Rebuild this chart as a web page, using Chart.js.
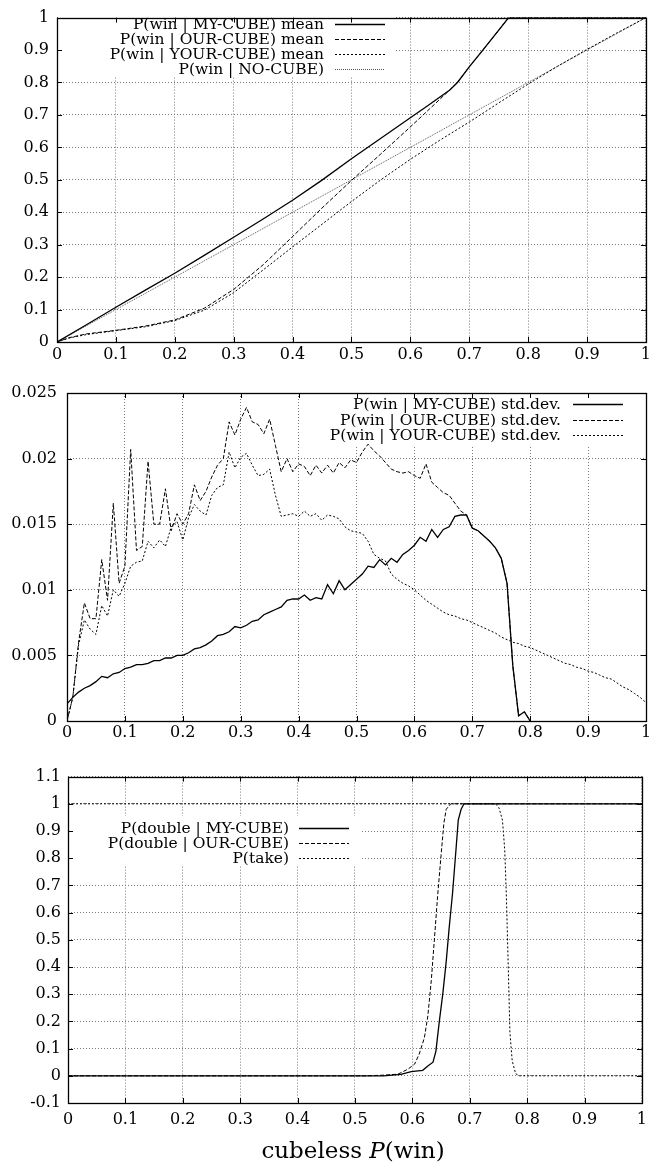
<!DOCTYPE html>
<html>
<head>
<meta charset="utf-8">
<script src="https://cdn.jsdelivr.net/npm/chart.js@4.4.1/dist/chart.umd.min.js"></script>
<style>
  body { margin: 0; background: #fff; width: 654px; height: 1170px; position: relative; overflow: hidden; }
  canvas { position: absolute; left: 0; }
  #xtitle { position: absolute; top: 1137px; left: 153px; width: 400px; text-align: center;
            font-family: "DejaVu Serif", serif; font-size: 23px; line-height: 26px; color: #000; }
</style>
</head>
<body>
<canvas id="meanChart" width="654" height="370" style="top:0px"></canvas>
<canvas id="sdChart" width="654" height="390" style="top:370px"></canvas>
<canvas id="doubleChart" width="654" height="410" style="top:760px"></canvas>
<div id="xtitle">cubeless <i>P</i>(win)</div>

<script>
// ---- tick values ----
const xTicks = [0, 0.1, 0.2, 0.3, 0.4, 0.5, 0.6, 0.7, 0.8, 0.9, 1];
const meanYTicks = [0, 0.1, 0.2, 0.3, 0.4, 0.5, 0.6, 0.7, 0.8, 0.9, 1];
const sdYTicks = [0, 0.005, 0.01, 0.015, 0.02, 0.025];
const doubleYTicks = [-0.1, 0, 0.1, 0.2, 0.3, 0.4, 0.5, 0.6, 0.7, 0.8, 0.9, 1, 1.1];

// ---- panel 1: mean P(win) ----
const meanMyX = [0, 0.05, 0.1, 0.15, 0.2, 0.25, 0.3, 0.35, 0.4, 0.45, 0.5, 0.55, 0.6, 0.63, 0.667, 0.68, 0.7, 0.72, 0.74, 0.767, 1];
const meanMy  = [0, 0.053, 0.107, 0.160, 0.212, 0.267, 0.323, 0.379, 0.437, 0.499, 0.565, 0.628, 0.691, 0.729, 0.777, 0.80, 0.848, 0.893, 0.938, 1, 1];
const meanOurX = [0, 0.02, 0.05, 0.1, 0.15, 0.2, 0.25, 0.3, 0.35, 0.4, 0.45, 0.5, 0.55, 0.6, 0.63, 0.667, 0.68, 0.7, 0.72, 0.74, 0.767, 1];
const meanOur  = [0, 0.013, 0.025, 0.036, 0.049, 0.068, 0.104, 0.162, 0.238, 0.325, 0.413, 0.498, 0.58, 0.663, 0.714, 0.777, 0.80, 0.848, 0.893, 0.938, 1, 1];
const meanYourX = [0, 0.02, 0.05, 0.1, 0.15, 0.2, 0.25, 0.3, 0.35, 0.4, 0.45, 0.5, 0.55, 0.6, 0.65, 0.7, 0.75, 0.8, 0.85, 0.9, 0.95, 1];
const meanYour  = [0, 0.012, 0.023, 0.035, 0.047, 0.066, 0.098, 0.152, 0.222, 0.293, 0.363, 0.433, 0.5, 0.563, 0.622, 0.678, 0.737, 0.795, 0.85, 0.902, 0.952, 1];
const meanNoX = [0, 1];
const meanNo  = [0, 1];

// ---- panel 2: std.dev. ----
const sdX = [0, 0.01, 0.02, 0.03, 0.04, 0.05, 0.06, 0.07, 0.08, 0.09,
  0.1, 0.11, 0.12, 0.13, 0.14, 0.15, 0.16, 0.17, 0.18, 0.19,
  0.2, 0.21, 0.22, 0.23, 0.24, 0.25, 0.26, 0.27, 0.28, 0.29,
  0.3, 0.31, 0.32, 0.33, 0.34, 0.35, 0.36, 0.37, 0.38, 0.39,
  0.4, 0.41, 0.42, 0.43, 0.44, 0.45, 0.46, 0.47, 0.48, 0.49,
  0.5, 0.51, 0.52, 0.53, 0.54, 0.55, 0.56, 0.57, 0.58, 0.59,
  0.6, 0.61, 0.62, 0.63, 0.64, 0.65, 0.66, 0.67, 0.68, 0.69,
  0.7, 0.71, 0.72, 0.73, 0.74, 0.75, 0.76, 0.77, 0.78, 0.79,
  0.8, 0.81, 0.82, 0.83, 0.84, 0.85, 0.86, 0.87, 0.88, 0.89,
  0.9, 0.91, 0.92, 0.93, 0.94, 0.95, 0.96, 0.97, 0.98, 0.99, 1];
const sdMy = [0.0013, 0.0018, 0.0022, 0.0025, 0.0027, 0.0030, 0.0034, 0.0033, 0.0036, 0.0037,
  0.0040, 0.0041, 0.0043, 0.0043, 0.0044, 0.0046, 0.0046, 0.0048, 0.0048, 0.0050,
  0.0050, 0.0052, 0.0055, 0.0056, 0.0058, 0.0061, 0.0065, 0.0066, 0.0068, 0.0072,
  0.0071, 0.0073, 0.0076, 0.0077, 0.0081, 0.0083, 0.0085, 0.0087, 0.0092, 0.0093,
  0.0093, 0.0096, 0.0092, 0.0094, 0.0093, 0.0104, 0.0097, 0.0107, 0.0100, 0.0104,
  0.0108, 0.0112, 0.0118, 0.0117, 0.0123, 0.0119, 0.0124, 0.0121, 0.0127, 0.0130,
  0.0134, 0.0140, 0.0137, 0.0146, 0.0140, 0.0146, 0.0148, 0.0156, 0.0157, 0.0157,
  0.0147, 0.0145, 0.0141, 0.0137, 0.0132, 0.0124, 0.0105, 0.0042, 0.0004, 0.0007, 0];
const sdOur = [0, 0.0018, 0.0060, 0.0090, 0.0078, 0.0078, 0.0123, 0.0092, 0.0166, 0.0105,
  0.0118, 0.0207, 0.0130, 0.0133, 0.0198, 0.0150, 0.0150, 0.0177, 0.0145, 0.0158,
  0.0150, 0.0158, 0.0180, 0.0168, 0.0175, 0.0186, 0.0195, 0.0200, 0.0228, 0.0218,
  0.0230, 0.0239, 0.0228, 0.0226, 0.0219, 0.0230, 0.0210, 0.0190, 0.0200, 0.0190,
  0.0196, 0.0194, 0.0187, 0.0195, 0.0189, 0.0195, 0.0189, 0.0197, 0.0193, 0.0199,
  0.0197, 0.0205, 0.0211, 0.0206, 0.0202, 0.0197, 0.0192, 0.0190, 0.0189, 0.0190,
  0.0187, 0.0185, 0.0196, 0.0182, 0.0178, 0.0174, 0.0172, 0.0166, 0.0160, 0.0157,
  0.0147, 0.0145, 0.0141, 0.0137, 0.0132, 0.0124, 0.0105, 0.0042, 0.0004, 0.0007, 0];
const sdYour = [0, 0.0018, 0.0058, 0.0077, 0.0070, 0.0066, 0.0088, 0.0080, 0.0100, 0.0095,
  0.0105, 0.0118, 0.0121, 0.0122, 0.0137, 0.0132, 0.0138, 0.0133, 0.0148, 0.0152,
  0.0138, 0.0155, 0.0165, 0.0160, 0.0157, 0.0172, 0.0178, 0.0180, 0.0205, 0.0193,
  0.0201, 0.0204, 0.0195, 0.0187, 0.0188, 0.0192, 0.0172, 0.0156, 0.0157, 0.0158,
  0.0156, 0.0160, 0.0156, 0.0158, 0.0153, 0.0157, 0.0156, 0.0154, 0.0148, 0.0145,
  0.0144, 0.0143, 0.0137, 0.0127, 0.0124, 0.0122, 0.0112, 0.0108, 0.0105, 0.0103,
  0.0100, 0.0096, 0.0092, 0.0089, 0.0086, 0.0083, 0.0081, 0.0080, 0.0078, 0.0077,
  0.0075, 0.0073, 0.0071, 0.0069, 0.0067, 0.0064, 0.0062, 0.0060, 0.0059, 0.0057,
  0.0056, 0.0054, 0.0052, 0.0050, 0.0048, 0.0046, 0.0044, 0.0043, 0.0041, 0.0040,
  0.0038, 0.0037, 0.0035, 0.0033, 0.0032, 0.0029, 0.0026, 0.0024, 0.0021, 0.0018, 0.0014];

// ---- panel 3: double / take probabilities ----
const dblMyX = [0, 0.55, 0.58, 0.598, 0.61, 0.618, 0.627, 0.636, 0.641, 0.647, 0.653, 0.659, 0.664, 0.67, 0.676, 0.68, 0.685, 0.69, 1];
const dblMy  = [0, 0, 0.005, 0.015, 0.018, 0.02, 0.036, 0.05, 0.09, 0.2, 0.3, 0.42, 0.54, 0.67, 0.83, 0.94, 0.98, 1, 1];
const dblOurX = [0, 0.52, 0.546, 0.575, 0.592, 0.604, 0.612, 0.621, 0.627, 0.633, 0.638, 0.644, 0.65, 0.655, 0.659, 0.667, 1];
const dblOur  = [0, 0, 0.002, 0.006, 0.024, 0.043, 0.08, 0.14, 0.22, 0.35, 0.49, 0.66, 0.81, 0.93, 0.98, 1, 1];
const takeX = [0, 0.745, 0.751, 0.757, 0.761, 0.764, 0.767, 0.77, 0.774, 0.78, 0.786, 1];
const take  = [1, 1, 0.985, 0.94, 0.83, 0.65, 0.41, 0.16, 0.055, 0.008, 0, 0];

const FONT = '"DejaVu Serif", "Liberation Serif", serif';
const pts = (xs, ys) => xs.map((x, i) => ({ x: x, y: ys[i] }));

// gnuplot look: white legend box over the grid, frame, inward ticks, legend text
const gnuplotFrame = {
    id: 'gnuplotFrame',
    beforeDatasetsDraw(chart, args, opts) {
        const b = opts.box;
        const ctx = chart.ctx;
        ctx.save();
        ctx.fillStyle = '#fff';
        ctx.fillRect(b.x, b.y, b.w, b.h);
        ctx.restore();
    },
    afterDatasetsDraw(chart, args, opts) {
        const ctx = chart.ctx;
        const a = chart.chartArea;
        const xs = chart.scales.x, ys = chart.scales.y;
        ctx.save();
        ctx.strokeStyle = '#000';
        ctx.lineWidth = 1;
        ctx.setLineDash([]);
        ctx.beginPath();
        xs.ticks.forEach(t => {
            const px = Math.round(xs.getPixelForValue(t.value)) + 0.5;
            ctx.moveTo(px, a.bottom); ctx.lineTo(px, a.bottom - 5);
            ctx.moveTo(px, a.top); ctx.lineTo(px, a.top + 5);
        });
        ys.ticks.forEach(t => {
            const py = Math.round(ys.getPixelForValue(t.value)) + 0.5;
            ctx.moveTo(a.left, py); ctx.lineTo(a.left + 5, py);
            ctx.moveTo(a.right, py); ctx.lineTo(a.right - 5, py);
        });
        ctx.stroke();
        ctx.lineWidth = 1.3;
        ctx.strokeRect(Math.round(a.left) + 0.5, Math.round(a.top) + 0.5,
                       Math.round(a.right - a.left), Math.round(a.bottom - a.top));

        // legend: text right-aligned, line sample to its right
        ctx.font = '15.5px ' + FONT;
        ctx.fillStyle = '#000';
        ctx.textAlign = 'right';
        ctx.textBaseline = 'middle';
        opts.rows.forEach((r, i) => {
            const y = opts.rowTop + i * opts.rowGap;
            ctx.fillText(r.text, opts.textRight, y + 1);
            const ds = chart.data.datasets[r.ds];
            ctx.strokeStyle = ds.borderColor;
            ctx.lineWidth = ds.borderWidth;
            ctx.setLineDash(ds.borderDash || []);
            ctx.beginPath();
            ctx.moveTo(opts.sampleFrom, Math.round(y) + 0.5);
            ctx.lineTo(opts.sampleTo, Math.round(y) + 0.5);
            ctx.stroke();
        });
        ctx.restore();
    }
};

function makeOptions(cfg) {
    return {
        responsive: false,
        animation: false,
        devicePixelRatio: 1,
        layout: { padding: { top: cfg.top, right: 8, left: 0, bottom: 0 } },
        elements: { point: { radius: 0 }, line: { tension: 0 } },
        plugins: {
            legend: { display: false },
            tooltip: { enabled: false },
            gnuplotFrame: cfg.legend
        },
        scales: {
            x: {
                type: 'linear', min: 0, max: 1,
                afterBuildTicks: s => { s.ticks = xTicks.map(v => ({ value: v })); },
                afterFit: s => { s.height = cfg.xHeight; },
                ticks: { autoSkip: false, maxRotation: 0, padding: cfg.xPad, color: '#000',
                         font: { family: FONT, size: 16 }, callback: v => String(v) },
                grid: { color: '#7a7a7a', lineWidth: 1, drawTicks: false },
                border: { display: false, dash: [1, 2] }
            },
            y: {
                type: 'linear', min: cfg.yMin, max: cfg.yMax,
                afterBuildTicks: s => { s.ticks = cfg.yTicks.map(v => ({ value: v })); },
                afterFit: s => { s.width = cfg.left; },
                ticks: { autoSkip: false, padding: cfg.yPad, color: '#000',
                         font: { family: FONT, size: 16 }, callback: v => String(v) },
                grid: { color: '#7a7a7a', lineWidth: 1, drawTicks: false },
                border: { display: false, dash: [1, 2] }
            }
        }
    };
}

function line(label, data, dash, color, width) {
    return { label: label, data: data, borderColor: color || '#000', borderWidth: width || 1,
             borderDash: dash, fill: false, pointRadius: 0 };
}

new Chart(document.getElementById('meanChart'), {
    type: 'line',
    data: {
        datasets: [
            line('P(win | MY-CUBE) mean', pts(meanMyX, meanMy), [], '#000', 1.3),
            line('P(win | OUR-CUBE) mean', pts(meanOurX, meanOur), [4, 2]),
            line('P(win | YOUR-CUBE) mean', pts(meanYourX, meanYour), [2, 2]),
            line('P(win | NO-CUBE)', pts(meanNoX, meanNo), [1, 1], '#555')
        ]
    },
    options: makeOptions({
        top: 14, left: 57, xHeight: 28, xPad: 3, yPad: 8,
        yMin: 0, yMax: 1, yTicks: meanYTicks,
        legend: {
            box: { x: 58, y: 15, w: 337, h: 62 },
            textRight: 324, sampleFrom: 335, sampleTo: 385, rowTop: 24, rowGap: 15,
            rows: [
                { text: 'P(win | MY-CUBE) mean', ds: 0 },
                { text: 'P(win | OUR-CUBE) mean', ds: 1 },
                { text: 'P(win | YOUR-CUBE) mean', ds: 2 },
                { text: 'P(win | NO-CUBE)', ds: 3 }
            ]
        }
    }),
    plugins: [gnuplotFrame]
});

new Chart(document.getElementById('sdChart'), {
    type: 'line',
    data: {
        datasets: [
            line('P(win | MY-CUBE) std.dev.', pts(sdX, sdMy), [], '#000', 1.3),
            line('P(win | OUR-CUBE) std.dev.', pts(sdX, sdOur), [4, 2]),
            line('P(win | YOUR-CUBE) std.dev.', pts(sdX, sdYour), [2, 2])
        ]
    },
    options: makeOptions({
        top: 23, left: 67, xHeight: 39, xPad: 2, yPad: 10,
        yMin: 0, yMax: 0.025, yTicks: sdYTicks,
        legend: {
            box: { x: 315, y: 24, w: 330, h: 52 },
            textRight: 561, sampleFrom: 573, sampleTo: 623, rowTop: 34, rowGap: 15.7,
            rows: [
                { text: 'P(win | MY-CUBE) std.dev.', ds: 0 },
                { text: 'P(win | OUR-CUBE) std.dev.', ds: 1 },
                { text: 'P(win | YOUR-CUBE) std.dev.', ds: 2 }
            ]
        }
    }),
    plugins: [gnuplotFrame]
});

new Chart(document.getElementById('doubleChart'), {
    type: 'line',
    data: {
        datasets: [
            line('P(double | MY-CUBE)', pts(dblMyX, dblMy), [], '#000', 1.3),
            line('P(double | OUR-CUBE)', pts(dblOurX, dblOur), [4, 2]),
            line('P(take)', pts(takeX, take), [2, 2])
        ]
    },
    options: makeOptions({
        top: 13, left: 68, xHeight: 67, xPad: 7, yPad: 7,
        yMin: -0.1, yMax: 1.1, yTicks: doubleYTicks,
        legend: {
            box: { x: 69, y: 56, w: 291, h: 50 },
            textRight: 289, sampleFrom: 299, sampleTo: 349, rowTop: 68, rowGap: 15,
            rows: [
                { text: 'P(double | MY-CUBE)', ds: 0 },
                { text: 'P(double | OUR-CUBE)', ds: 1 },
                { text: 'P(take)', ds: 2 }
            ]
        }
    }),
    plugins: [gnuplotFrame]
});
</script>
</body>
</html>
